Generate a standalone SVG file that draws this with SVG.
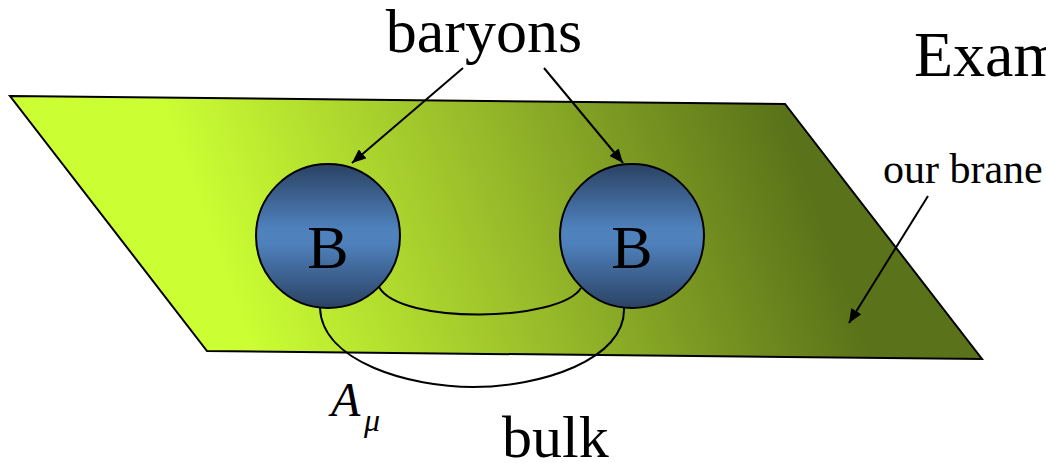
<svg xmlns="http://www.w3.org/2000/svg" width="1046" height="463" viewBox="0 0 1046 463">
<style>
.t{font-family:"Liberation Serif","Times New Roman",serif;fill:#000}
.ln{fill:none;stroke:#000;stroke-width:2}
.ar{stroke:#000;stroke-width:2;marker-end:url(#ah)}
.ball{stroke:#000;stroke-width:2;fill:url(#ballg)}
</style>
<defs>
<linearGradient id="braneg" gradientUnits="userSpaceOnUse" x1="240" y1="330" x2="790" y2="130">
<stop offset="0" stop-color="#ccff33"/>
<stop offset="0.5" stop-color="#97ba2a"/>
<stop offset="1" stop-color="#5a7219"/>
</linearGradient>
<linearGradient id="ballg" x1="0" y1="0" x2="0" y2="1">
<stop offset="0" stop-color="#2a4263"/>
<stop offset="0.45" stop-color="#4f81bd"/>
<stop offset="0.55" stop-color="#4f81bd"/>
<stop offset="1" stop-color="#2a4263"/>
</linearGradient>
<marker id="ah" viewBox="0 0 14 12" refX="14" refY="6" markerWidth="14" markerHeight="12" markerUnits="userSpaceOnUse" orient="auto">
<path d="M0,0 L14,6 L0,12 z" fill="#000"/>
</marker>
</defs>
<g id="brane">
<polygon points="10,96 785,104 982,359 207,351" fill="url(#braneg)" stroke="#000" stroke-width="2"/>
</g>
<g id="connectors">
<path class="ln" d="M379,287 C400,325 560,322 581,288"/>
<path class="ln" d="M320,308 C322,362 410,387 473,387 C540,387 626,360 624,308"/>
<line class="ar" x1="463" y1="68" x2="352" y2="163"/>
<line class="ar" x1="544" y1="68" x2="623" y2="163"/>
<line class="ar" x1="928" y1="196" x2="849" y2="323"/>
</g>
<g id="ballL">
<circle class="ball" cx="328" cy="236" r="72"/>
<text class="t" x="328" y="268" font-size="62" text-anchor="middle">B</text>
</g>
<g id="ballR">
<circle class="ball" cx="632" cy="236" r="72"/>
<text class="t" x="632" y="268" font-size="62" text-anchor="middle">B</text>
</g>
<g id="labels">
<text class="t" x="484" y="52" font-size="62" text-anchor="middle">baryons</text>
<text class="t" x="914" y="76" font-size="64">Exam</text>
<text class="t" x="883" y="183" font-size="42">our brane</text>
<text class="t" x="331" y="416" font-size="48" font-style="italic">A</text>
<text class="t" x="364" y="431" font-size="32" font-style="italic">μ</text>
<text class="t" x="502" y="457" font-size="60">bulk</text>
</g>
</svg>
